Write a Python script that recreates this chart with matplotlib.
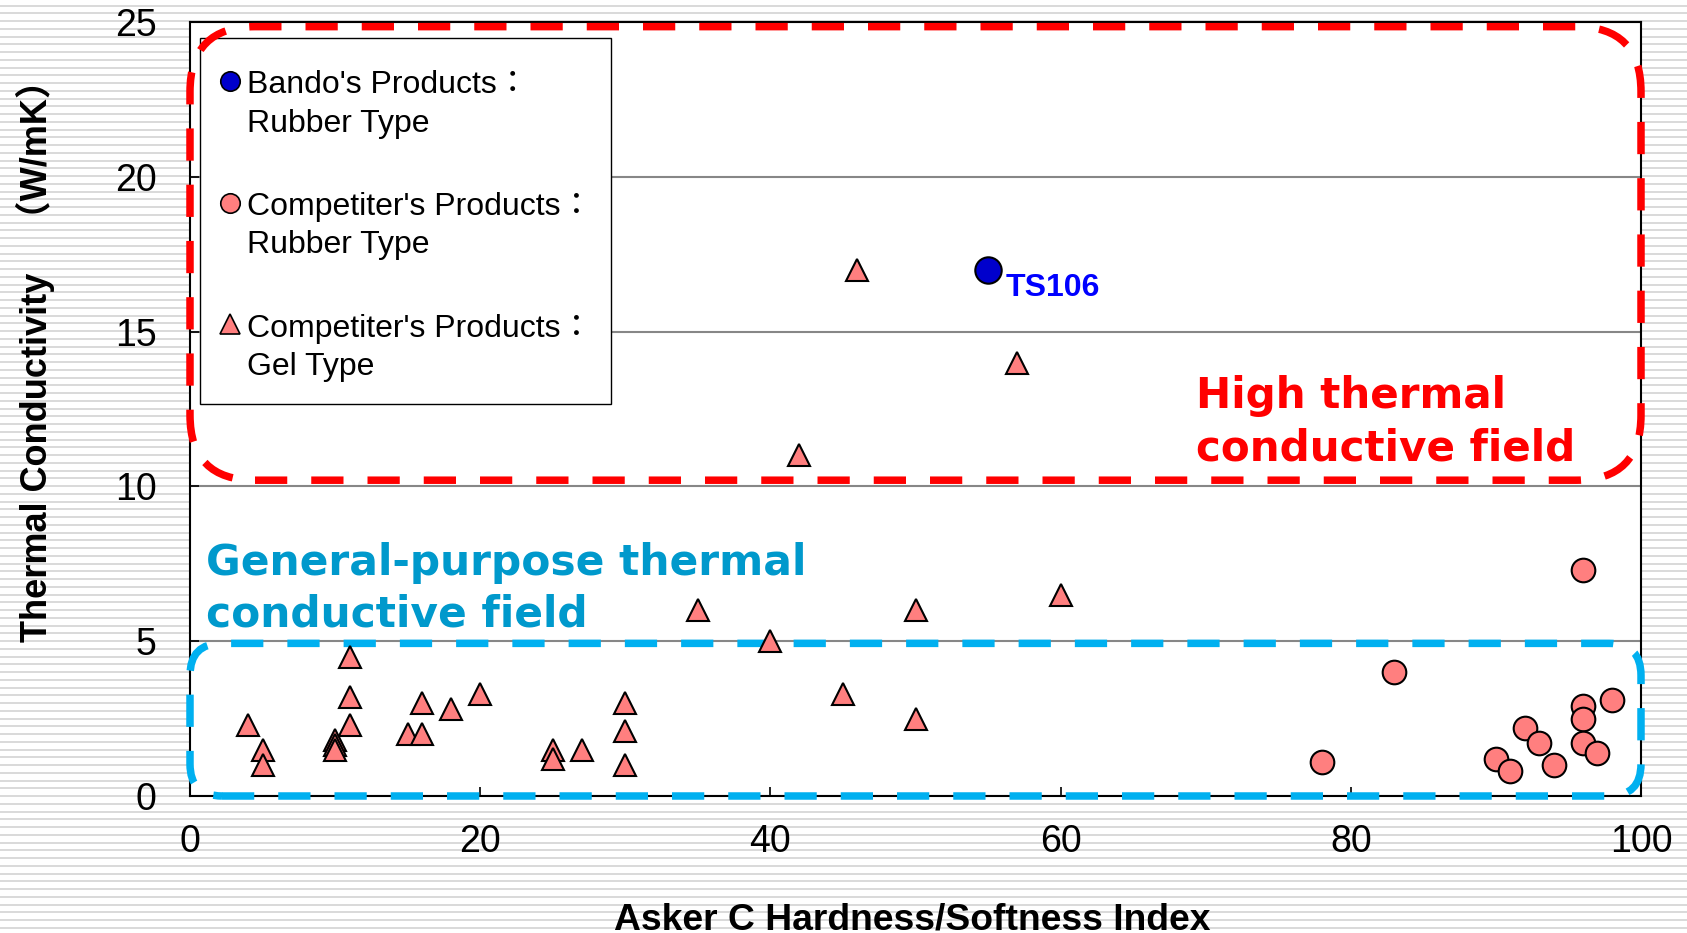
"""
Thermal conductivity vs. Asker C hardness — product positioning chart.
"""

import matplotlib
matplotlib.use("Agg")
import matplotlib.pyplot as plt
from matplotlib.patches import FancyBboxPatch, Rectangle
from matplotlib.transforms import IdentityTransform
import numpy as np

plt.rcParams["font.family"] = ["Liberation Sans", "Noto Sans CJK JP", "DejaVu Sans"]

W, H, DPI = 1687, 933, 100

# --- data -------------------------------------------------------------
gel_x = [4, 5, 5, 10, 10, 10, 11, 11, 11, 15, 16, 16, 18, 20, 25, 25, 27,
         30, 30, 30, 35, 40, 42, 45, 46, 50, 50, 57, 60]
gel_y = [2.3, 1.5, 1.0, 1.8, 1.65, 1.5, 4.5, 3.2, 2.3, 2.0, 2.0, 3.0, 2.8,
         3.3, 1.5, 1.2, 1.5, 3.0, 2.1, 1.0, 6.0, 5.0, 11.0, 3.3, 17.0, 6.0,
         2.5, 14.0, 6.5]

rubber_x = [78, 83, 90, 91, 92, 93, 94, 96, 96, 96, 96, 97, 98]
rubber_y = [1.1, 4.0, 1.2, 0.8, 2.2, 1.7, 1.0, 7.3, 2.9, 2.5, 1.7, 1.4, 3.1]

bando_x = [55]
bando_y = [17]
bando_label = "TS106"

x_ticks = [0, 20, 40, 60, 80, 100]
y_ticks = [0, 5, 10, 15, 20, 25]

# field regions: x0, y0, x1, y1 (data units)
high_field = (0, 10.2, 100, 24.85)
general_field = (0, 0, 100, 4.93)
high_text = "High thermal\nconductive field"
general_text = "General-purpose thermal\nconductive field"

legend_lines = [
    ("Bando's Products：", "Rubber Type"),
    ("Competiter's Products：", "Rubber Type"),
    ("Competiter's Products：", "Gel Type"),
]

PINK = "#FF7F7F"
BLUE = "#0000CC"
RED = "#FF0000"
CYAN_LINE = "#00B0F0"
CYAN_TEXT = "#0099CC"

fig = plt.figure(figsize=(W / DPI, H / DPI), dpi=DPI, facecolor="white")

# striped backdrop
bg = fig.add_axes([0, 0, 1, 1], zorder=-10)
bg.set_xlim(0, W)
bg.set_ylim(H, 0)
bg.axis("off")
bg.hlines(np.arange(5.7, H, 7.75), 0, W, color="#d9d9d9", lw=1.4)

ax_l, ax_r, ax_t, ax_b = 190, 1641, 22, 796
ax = fig.add_axes([ax_l / W, 1 - ax_b / H, (ax_r - ax_l) / W, (ax_b - ax_t) / H])
ax.set_facecolor("white")
ax.set_xlim(0, 100)
ax.set_ylim(0, 25)
ax.set_xticks(x_ticks)
ax.set_yticks(y_ticks)
ax.set_axisbelow(True)
ax.yaxis.grid(True, color="#878787", lw=1.5)
for sp in ax.spines.values():
    sp.set_linewidth(1.5)
ax.tick_params(direction="in", length=6.5, width=1.2, labelsize=27)
ax.tick_params(axis="x", pad=20)
ax.tick_params(axis="y", pad=24)


def apx(x, y):
    """figure pixel (top-left origin) -> axes fraction"""
    return (x - ax_l) / (ax_r - ax_l), (ax_b - y) / (ax_b - ax_t)


# labels
ax.set_xlabel("Asker C Hardness/Softness Index", fontsize=26.8, fontweight="bold",
              va="baseline")
ax.xaxis.set_label_coords(*apx(912, 929))
ax.set_ylabel("Thermal Conductivity\u3000（W/mK）", fontsize=26, fontweight="bold",
              rotation=90, rotation_mode="anchor", va="baseline", ha="center")
ax.yaxis.set_label_coords(*apx(47, 352))

# legend (drawn by hand: handle sits on the first line of each two-line label)
x0, y0 = apx(200, 403.5)
x1, y1 = apx(611, 37.7)
ax.add_patch(Rectangle((x0, y0), x1 - x0, y1 - y0, transform=ax.transAxes,
                       fc="white", ec="black", lw=1.0, zorder=2, clip_on=False))
leg_styles = [dict(marker="o", mfc=BLUE, ms=14),
              dict(marker="o", mfc=PINK, ms=14),
              dict(marker="^", mfc=PINK, ms=14)]
for i, ((l1, l2), st) in enumerate(zip(legend_lines, leg_styles)):
    row = i * 121.7
    ax.plot(*apx(230, 81 + row), transform=ax.transAxes, ls="none", mec="black",
            mew=1.2, zorder=2.1, clip_on=False, **st)
    ax.text(*apx(247, 93.3 + row), l1, transform=ax.transAxes, fontsize=23,
            va="baseline", ha="left", zorder=2.1)
    ax.text(*apx(247, 131.7 + row), l2, transform=ax.transAxes, fontsize=23,
            va="baseline", ha="left", zorder=2.1)


# rounded dashed field boxes, built in pixel space so corners stay circular
def field_box(region, radius, color):
    (px0, py0), (px1, py1) = ax.transData.transform([region[:2], region[2:]])
    box = FancyBboxPatch((px0, py0), px1 - px0, py1 - py0,
                         boxstyle=f"round,pad=0,rounding_size={radius}",
                         transform=IdentityTransform(), fc="none", ec=color,
                         lw=5.4, ls=(0, (4.3, 3.2)), zorder=3, clip_on=False)
    ax.add_patch(box)


field_box(high_field, 65, RED)
field_box(general_field, 32, CYAN_LINE)

# multi-line text with va="baseline" is anchored on its last line
ax.text(1.1, 5.46, general_text, color=CYAN_TEXT, fontsize=30.5, fontweight="bold",
        family="DejaVu Sans", va="baseline", ha="left", linespacing=1.31, zorder=5)
ax.text(69.3, 10.84, high_text, color=RED, fontsize=30.3, fontweight="bold",
        family="DejaVu Sans", va="baseline", ha="left", linespacing=1.31, zorder=5)

# points
ax.plot(gel_x, gel_y, ls="none", marker="^", ms=16, mfc=PINK, mec="black",
        mew=1.5, zorder=4, clip_on=False)
ax.plot(rubber_x, rubber_y, ls="none", marker="o", ms=17, mfc=PINK, mec="black",
        mew=1.5, zorder=4, clip_on=False)
ax.plot(bando_x, bando_y, ls="none", marker="o", ms=19, mfc=BLUE, mec="black",
        mew=1.5, zorder=4, clip_on=False)
ax.annotate(bando_label, (bando_x[0], bando_y[0]), xytext=(13, -19),
            textcoords="offset points", color="#0000FF", fontsize=23,
            fontweight="bold", va="baseline", ha="left", zorder=5)

fig.savefig("out.png", dpi=DPI)
